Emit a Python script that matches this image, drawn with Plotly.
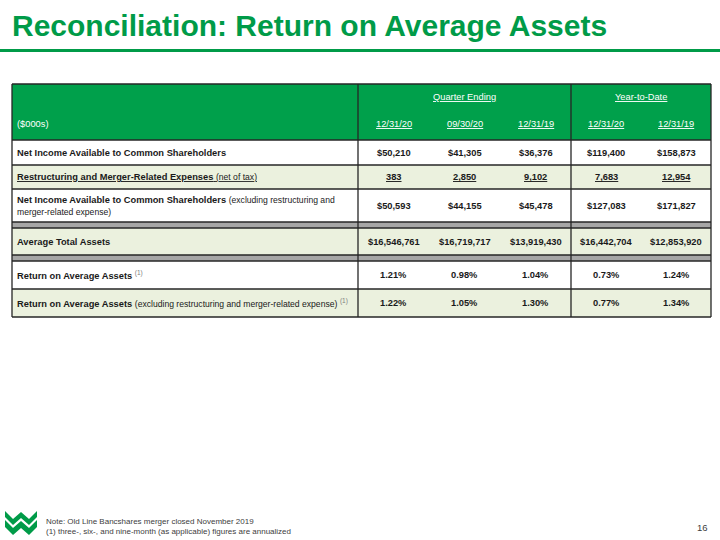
import plotly.graph_objects as go

# ---------------- data ----------------
title = "Reconciliation: Return on Average Assets"
units_label = "($000s)"
group_labels = ["Quarter Ending", "Year-to-Date"]
group_sizes = [3, 2]
period_labels = ["12/31/20", "09/30/20", "12/31/19", "12/31/20", "12/31/19"]

NS = '<span style="font-size:8.6px">'  # normal-weight explanatory text
SUP = '<span style="color:#808080"><sup>(1)</sup></span>'
row_labels = [
    "<b>Net Income Available to Common Shareholders</b>",
    f"<u><b>Restructuring and Merger-Related Expenses</b> {NS}(net of tax)</span></u>",
    f"<b>Net Income Available to Common Shareholders</b> {NS}(excluding restructuring and</span><br>{NS}merger-related expense)</span>",
    "<b>Average Total Assets</b>",
    f"<b>Return on Average Assets</b> {SUP}",
    f"<b>Return on Average Assets</b> {NS}(excluding restructuring and merger-related expense)</span> {SUP}",
]
net_income = [50210, 41305, 36376, 119400, 158873]
restructuring = [383, 2850, 9102, 7683, 12954]
net_income_excl = [50593, 44155, 45478, 127083, 171827]
avg_total_assets = [16546761, 16719717, 13919430, 16442704, 12853920]
roaa = [1.21, 0.98, 1.04, 0.73, 1.24]
roaa_excl = [1.22, 1.05, 1.30, 0.77, 1.34]

notes = [
    "Note: Old Line Bancshares merger closed November 2019",
    "(1) three-, six-, and nine-month (as applicable) figures are annualized",
]
page_number = "16"

# ---------------- styles / layout ----------------
GREEN = "#00A04B"
TITLE_GREEN = "#009B48"
LIGHT = "#EBF1DE"
GRAY = "#A6A6A6"
LINE = "#262626"
TXT = "#1A1A1A"
FONT = "Liberation Sans, Arial, sans-serif"
FS = 9.3

W, H = 720, 540
T_LEFT, LABEL_RIGHT, Q_RIGHT, T_RIGHT = 12, 358, 571, 711
T_TOP, HEAD_BOTTOM = 84, 140

q_w = (Q_RIGHT - LABEL_RIGHT) / group_sizes[0]
y_w = (T_RIGHT - Q_RIGHT) / group_sizes[1]
col_centers = [LABEL_RIGHT + q_w * (i + 0.5) for i in range(group_sizes[0])] + \
              [Q_RIGHT + y_w * (i + 0.5) for i in range(group_sizes[1])]
group_centers = [(LABEL_RIGHT + Q_RIGHT) / 2, (Q_RIGHT + T_RIGHT) / 2]

def fmt_dollar(v):
    return f"${v:,}"

def fmt_plain_u(v):
    return f"<u>{v:,}</u>"

def fmt_pct(v):
    return f"{v:.2f}%"

body = [
    (0, net_income, fmt_dollar, "white", 25),
    (1, restructuring, fmt_plain_u, LIGHT, 24),
    (2, net_income_excl, fmt_dollar, "white", 33),
    (None, None, None, GRAY, 6),
    (3, avg_total_assets, fmt_dollar, LIGHT, 27),
    (None, None, None, GRAY, 6),
    (4, roaa, fmt_pct, "white", 28),
    (5, roaa_excl, fmt_pct, LIGHT, 28),
]

shapes = []
annotations = []

def ann(x, y, text, size=FS, color=TXT, xanchor="center", family=FONT, align="left"):
    annotations.append(dict(x=x, y=y, xref="x", yref="y", text=text, showarrow=False,
                            xanchor=xanchor, yanchor="middle", align=align,
                            font=dict(family=family, size=size, color=color)))

# title + rule
ann(10, 25, f"<b>{title}</b>", size=30, color=TITLE_GREEN, xanchor="left",
    family="Liberation Sans Narrow, Arial Narrow, Liberation Sans, Arial, sans-serif")
shapes.append(dict(type="line", xref="x", yref="y", x0=0, x1=W, y0=50.5, y1=50.5,
                   line=dict(color=TITLE_GREEN, width=3)))

# header
shapes.append(dict(type="rect", xref="x", yref="y", x0=T_LEFT, x1=T_RIGHT, y0=T_TOP, y1=HEAD_BOTTOM,
                   fillcolor=GREEN, line=dict(width=0), layer="below"))
for gx, gl in zip(group_centers, group_labels):
    ann(gx, 97, f"<u>{gl}</u>", color="white")
for cx, pl in zip(col_centers, period_labels):
    ann(cx, 124, f"<u>{pl}</u>", color="white")
ann(15, 124, units_label, color="white", xanchor="left")

# body rows
y = HEAD_BOTTOM
row_edges = [T_TOP, HEAD_BOTTOM]
for li, vals, fmt, fill, h in body:
    shapes.append(dict(type="rect", xref="x", yref="y", x0=T_LEFT, x1=T_RIGHT, y0=y, y1=y + h,
                       fillcolor=fill, line=dict(width=0), layer="below"))
    mid = y + h / 2
    if li is not None:
        ann(15, mid, row_labels[li], xanchor="left")
        for cx, v in zip(col_centers, vals):
            ann(cx, mid, f"<b>{fmt(v)}</b>")
    y += h
    row_edges.append(y)

# grid lines
for e in row_edges:
    shapes.append(dict(type="line", xref="x", yref="y", x0=T_LEFT, x1=T_RIGHT, y0=e, y1=e,
                       line=dict(color=LINE, width=1.3)))
for vx in [T_LEFT, LABEL_RIGHT, Q_RIGHT, T_RIGHT]:
    shapes.append(dict(type="line", xref="x", yref="y", x0=vx, x1=vx, y0=T_TOP, y1=row_edges[-1],
                       line=dict(color=LINE, width=1.3)))

# footer logo (decorative zigzag W)
logo_top = "M5,511 L13,519 L21,512 L29,519 L37,511 L37,517 L29,525 L21,518 L13,525 L5,517 Z"
logo_bot = "M5,520 L13,528 L21,521 L29,528 L37,520 L37,527 L29,535 L21,528 L13,535 L5,527 Z"
for p in (logo_top, logo_bot):
    shapes.append(dict(type="path", xref="x", yref="y", path=p, fillcolor=TITLE_GREEN,
                       line=dict(width=0)))

for i, n in enumerate(notes):
    ann(44, 521 + i * 10.5, n, size=8, color="#404040", xanchor="left")
ann(710, 527, page_number, size=9.5, color="#404040", xanchor="right")

fig = go.Figure()
fig.update_layout(
    width=W, height=H, margin=dict(l=0, r=0, t=0, b=0),
    paper_bgcolor="white", plot_bgcolor="white",
    xaxis=dict(range=[0, W], visible=False, fixedrange=True),
    yaxis=dict(range=[H, 0], visible=False, fixedrange=True),
    shapes=shapes, annotations=annotations, showlegend=False,
)
fig.write_html(
    "out.html",
    config={"displayModeBar": False},
    post_script="document.body.style.margin='0';document.body.style.padding='0';"
                "document.documentElement.style.overflow='hidden';",
)
